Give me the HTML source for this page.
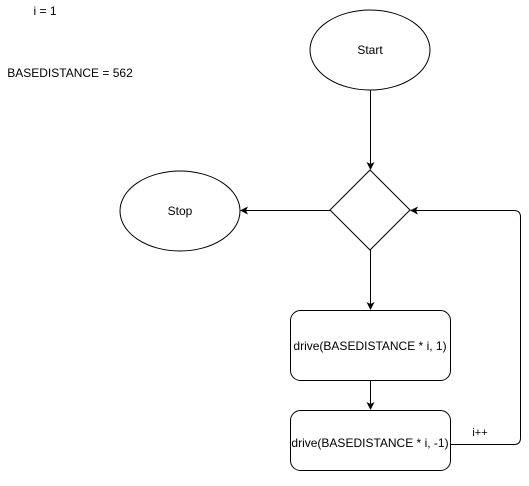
<!DOCTYPE html>
<html><head><style>html,body{margin:0;padding:0;background:#fff;}</style></head>
<body>
<svg width="529" height="481" xmlns="http://www.w3.org/2000/svg" font-family="Liberation Sans, Arial, sans-serif" font-size="12" fill="none">
<defs><marker id="a" markerWidth="8" markerHeight="8" refX="7" refY="4" orient="auto" markerUnits="userSpaceOnUse"><path d="M0,0 L8,4 L0,8 L2,4 Z" fill="#000"/></marker></defs>
<text x="45" y="15" fill="#000" text-anchor="middle">i = 1</text>
<text x="70" y="77" fill="#000" text-anchor="middle">BASEDISTANCE = 562</text>
<ellipse cx="370" cy="50" rx="60" ry="40" stroke="#000" fill="#fff"/>
<text x="370" y="54" fill="#000" text-anchor="middle">Start</text>
<ellipse cx="180" cy="211" rx="60" ry="40" stroke="#000" fill="#fff"/>
<text x="180" y="215" fill="#000" text-anchor="middle">Stop</text>
<path d="M370,170 L410,210 L370,250 L330,210 Z" stroke="#000" fill="#fff"/>
<rect x="290.5" y="310.5" width="160" height="70" rx="10" stroke="#000" fill="#fff"/>
<text x="370" y="350" fill="#000" text-anchor="middle">drive(BASEDISTANCE * i, 1)</text>
<rect x="290.5" y="410.5" width="160" height="60" rx="10" stroke="#000" fill="#fff"/>
<text x="370" y="447" fill="#000" text-anchor="middle">drive(BASEDISTANCE * i, -1)</text>
<g stroke="#000">
<line x1="370.5" y1="90" x2="370.5" y2="169" marker-end="url(#a)"/>
<line x1="330" y1="210.5" x2="241" y2="210.5" marker-end="url(#a)"/>
<line x1="370.5" y1="250" x2="370.5" y2="309" marker-end="url(#a)"/>
<line x1="370.5" y1="381" x2="370.5" y2="409" marker-end="url(#a)"/>
<path d="M450.5,444.5 L514,444.5 Q520.5,444.5 520.5,438 L520.5,217 Q520.5,210.5 514,210.5 L411,210.5" marker-end="url(#a)"/>
</g>
<text x="480" y="436" fill="#000" font-size="11" text-anchor="middle">i++</text>
</svg>
</body></html>
